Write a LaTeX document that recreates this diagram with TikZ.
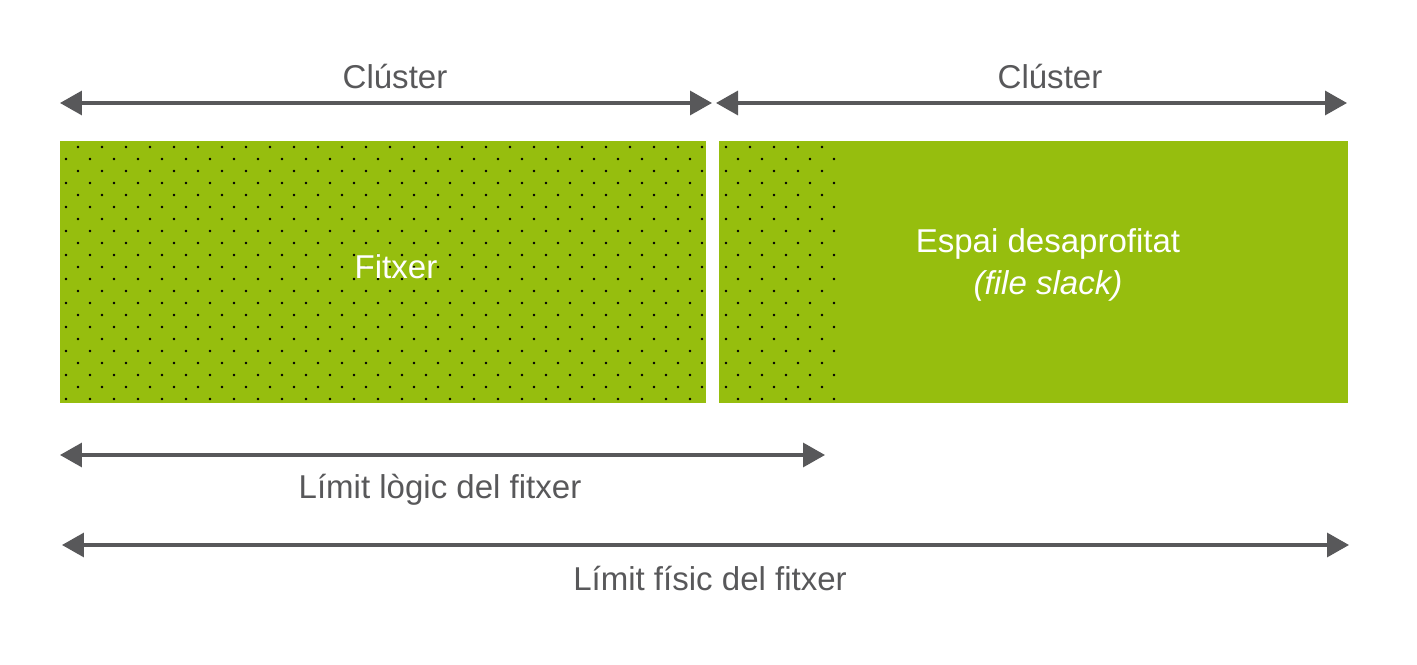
\documentclass[tikz,border=0pt]{standalone}
\usepackage{fontspec}
\setmainfont{Liberation Sans}
\usetikzlibrary{arrows.meta}
\definecolor{slackgreen}{RGB}{150,190,14}
\definecolor{arrowgray}{RGB}{88,88,90}
\tikzset{
  label text/.style={text=arrowgray,font=\fontsize{18.8}{22}\selectfont,inner sep=0pt},
  inner text/.style={text=white,font=\fontsize{18.8}{22}\selectfont,inner sep=0pt,align=center},
  span/.style={draw=arrowgray,line width=1.9pt,{Triangle[length=0.44cm,width=0.48cm]}-{Triangle[length=0.44cm,width=0.48cm]}},
  dot/.style={fill=black}
}
\begin{document}
\begin{tikzpicture}[x=0.02cm,y=-0.02cm]
        \useasboundingbox (0,0) rectangle (1417,665);
        % clusters
        \fill[slackgreen] (60,141) rectangle (706,403);
        \fill[slackgreen] (719,141) rectangle (1348,403);
        \foreach \r in {0,...,10} {
          \foreach \c in {0,...,26} {
            \fill[dot] (78+24*\c,147+24*\r) circle[radius=0.028cm];
            \fill[dot] (66+24*\c,159+24*\r) circle[radius=0.028cm];
          }
          \foreach \c in {0,...,4} {
            \fill[dot] (726+24*\c,147+24*\r) circle[radius=0.028cm];
            \fill[dot] (738+24*\c,159+24*\r) circle[radius=0.028cm];
          }
        }
        \node[inner text] (fitxer) at (396,267) {Fitxer};
        \node[inner text] (slack) at (1048,265) {Espai desaprofitat\\[2pt]\textit{(file slack)}};
        % spans
        \coordinate (c1a) at (60,103);
        \coordinate (c1b) at (712,103);
        \coordinate (c2a) at (716,103);
        \coordinate (c2b) at (1347,103);
        \coordinate (la) at (60,455);
        \coordinate (lb) at (825,455);
        \coordinate (pa) at (62,545);
        \coordinate (pb) at (1349,545);
        \draw[span] (c1a) -- (c1b);
        \draw[span] (c2a) -- (c2b);
        \draw[span] (la) -- (lb);
        \draw[span] (pa) -- (pb);
        \node[label text] (cl1) at (395,77) {Clúster};
        \node[label text] (cl2) at (1050,77) {Clúster};
        \node[label text] (logic) at (440,490) {Límit lògic del fitxer};
        \node[label text] (phys) at (710,578) {Límit físic del fitxer};
\end{tikzpicture}
\end{document}
